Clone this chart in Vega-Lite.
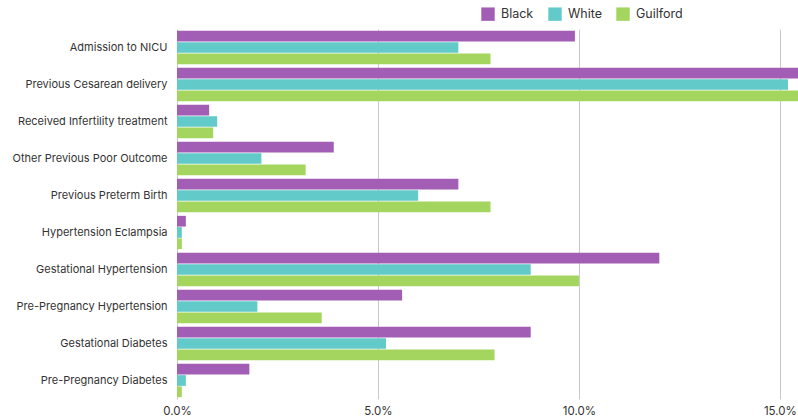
{
  "$schema": "https://vega.github.io/schema/vega-lite/v6.json",
  "width": 621,
  "height": 370,
  "autosize": {"type": "none"},
  "padding": {"left": 177, "top": 29, "right": 0, "bottom": 20},
  "background": "white",
  "config": {
    "font": "Inter",
    "view": {"stroke": null},
    "axis": {"labelFont": "Inter", "labelColor": "#333333"}
  },
  "data": {
    "values": [
      {"measure": "Admission to NICU", "group": "Black", "pct": 9.9},
      {"measure": "Admission to NICU", "group": "White", "pct": 7.0},
      {"measure": "Admission to NICU", "group": "Guilford", "pct": 7.8},
      {"measure": "Previous Cesarean delivery", "group": "Black", "pct": 15.8},
      {"measure": "Previous Cesarean delivery", "group": "White", "pct": 15.2},
      {"measure": "Previous Cesarean delivery", "group": "Guilford", "pct": 15.7},
      {"measure": "Received Infertility treatment", "group": "Black", "pct": 0.8},
      {"measure": "Received Infertility treatment", "group": "White", "pct": 1.0},
      {"measure": "Received Infertility treatment", "group": "Guilford", "pct": 0.9},
      {"measure": "Other Previous Poor Outcome", "group": "Black", "pct": 3.9},
      {"measure": "Other Previous Poor Outcome", "group": "White", "pct": 2.1},
      {"measure": "Other Previous Poor Outcome", "group": "Guilford", "pct": 3.2},
      {"measure": "Previous Preterm Birth", "group": "Black", "pct": 7.0},
      {"measure": "Previous Preterm Birth", "group": "White", "pct": 6.0},
      {"measure": "Previous Preterm Birth", "group": "Guilford", "pct": 7.8},
      {"measure": "Hypertension Eclampsia", "group": "Black", "pct": 0.22},
      {"measure": "Hypertension Eclampsia", "group": "White", "pct": 0.12},
      {"measure": "Hypertension Eclampsia", "group": "Guilford", "pct": 0.12},
      {"measure": "Gestational Hypertension", "group": "Black", "pct": 12.0},
      {"measure": "Gestational Hypertension", "group": "White", "pct": 8.8},
      {"measure": "Gestational Hypertension", "group": "Guilford", "pct": 10.0},
      {"measure": "Pre-Pregnancy Hypertension", "group": "Black", "pct": 5.6},
      {"measure": "Pre-Pregnancy Hypertension", "group": "White", "pct": 2.0},
      {"measure": "Pre-Pregnancy Hypertension", "group": "Guilford", "pct": 3.6},
      {"measure": "Gestational Diabetes", "group": "Black", "pct": 8.8},
      {"measure": "Gestational Diabetes", "group": "White", "pct": 5.2},
      {"measure": "Gestational Diabetes", "group": "Guilford", "pct": 7.9},
      {"measure": "Pre-Pregnancy Diabetes", "group": "Black", "pct": 1.8},
      {"measure": "Pre-Pregnancy Diabetes", "group": "White", "pct": 0.22},
      {"measure": "Pre-Pregnancy Diabetes", "group": "Guilford", "pct": 0.12}
    ]
  },
  "mark": {"type": "bar", "clip": true},
  "encoding": {
    "y": {
      "field": "measure",
      "type": "nominal",
      "sort": null,
      "scale": {"paddingInner": 0.1, "paddingOuter": 0.05},
      "axis": {"title": null, "ticks": false, "domain": false, "labelPadding": 10, "labelFontSize": 11, "labelLimit": 200}
    },
    "yOffset": {
      "field": "group",
      "type": "nominal",
      "sort": ["Black", "White", "Guilford"],
      "scale": {"paddingInner": 0.05}
    },
    "x": {
      "field": "pct",
      "type": "quantitative",
      "scale": {"domain": [0, 15.45], "nice": false},
      "axis": {
        "title": null,
        "values": [0, 5, 10, 15],
        "labelExpr": "format(datum.value, '.1f') + '%'",
        "ticks": false,
        "domain": false,
        "grid": true,
        "gridColor": "#c8c8c8",
        "labelFontSize": 11.5,
        "labelPadding": 6,
        "labelFlush": false
      }
    },
    "color": {
      "field": "group",
      "type": "nominal",
      "sort": ["Black", "White", "Guilford"],
      "scale": {"domain": ["Black", "White", "Guilford"], "range": ["#A25EB5", "#62CBCA", "#A4D55E"]},
      "legend": {
        "title": null,
        "orient": "none",
        "direction": "horizontal",
        "legendX": 304,
        "legendY": -22,
        "symbolType": "square",
        "symbolSize": 180,
        "symbolStrokeWidth": 0,
        "labelFontSize": 12.5,
        "labelColor": "#333333",
        "labelOffset": 6,
        "columnPadding": 14
      }
    }
  }
}
